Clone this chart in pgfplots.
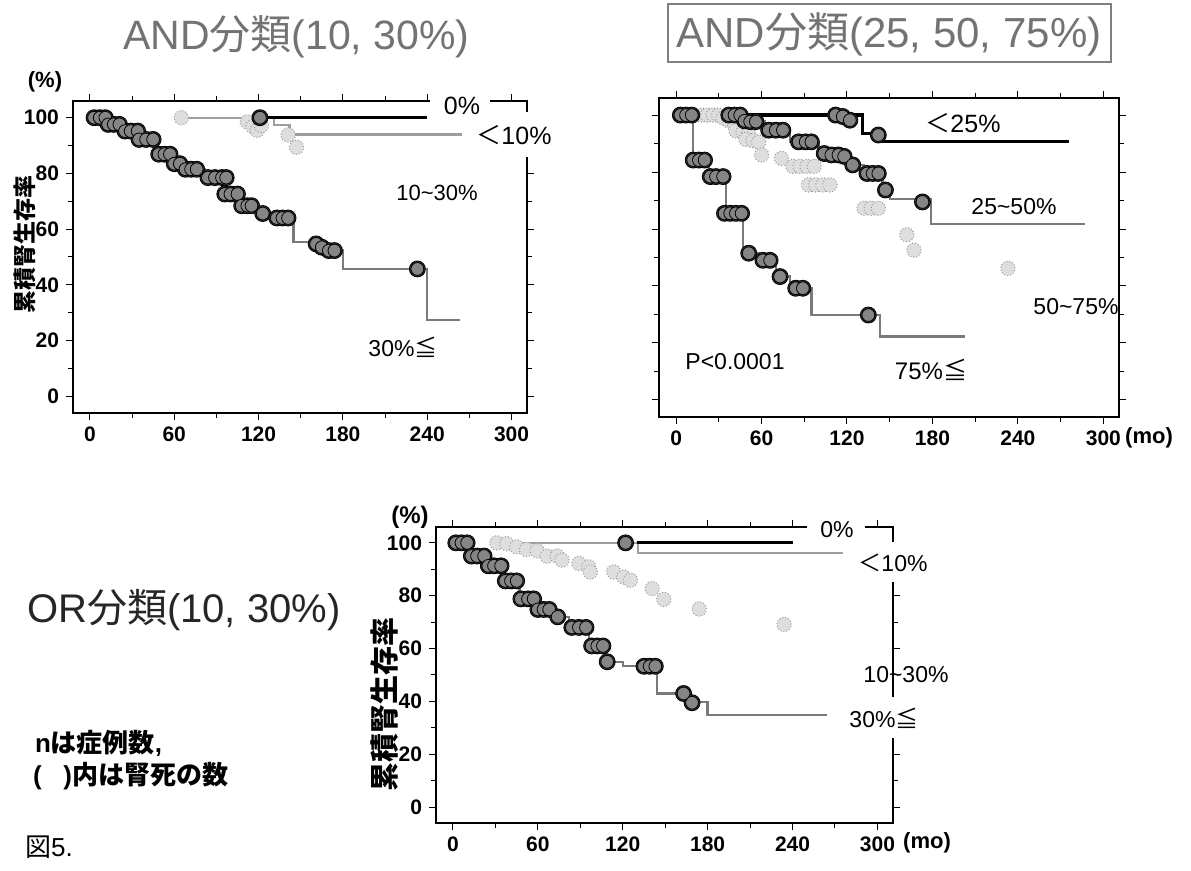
\documentclass[border=0pt]{standalone}
\usepackage{pgfplots}
\usepackage{pgfplotstable}
\pgfplotsset{compat=1.18}
\usepackage{fontspec}
\setmainfont{Liberation Sans}
\newfontfamily\jp{Noto Sans CJK JP}

\definecolor{dkfill}{gray}{0.52}
\definecolor{ltfill}{gray}{0.87}
\definecolor{stepgray}{gray}{0.48}
\definecolor{ltline}{gray}{0.62}
\definecolor{titlegray}{gray}{0.45}

% censored marks, dark groups
\pgfplotstableread{
x y
3 100
7 100
11 100
13 97.6
17 97.6
21 97.6
25 95.2
29 95.2
34 95.2
35 92.2
40 92.2
45 92.2
49 86.9
53 86.9
57 86.9
60 83.5
64 83.5
68 81.5
72 81.5
76 81.5
84 78.5
89 78.5
94 78.5
97 78.5
96 72.6
100 72.6
105 72.6
108 68.4
112 68.4
115 68.4
123 65.6
133 64
137 64
141 64
161 54.7
165 53.5
170 52.3
174 52.3
233 45.7
121 100
}\tlDark

\pgfplotstableread{
x y
37 100
41 100
45 100
48 98
52 97.7
56 97.7
65 94.7
70 94.7
75 94.7
86 90.6
91 90.6
95 90.6
104 86.5
109 86
114 86
118 85.5
124 82.5
134 79.5
138 79.5
142 79.5
147 73.7
173 69.5
3 100
7 100
11 100
12 84.2
16 84.2
20 84.2
24 78.4
28 78.4
33 78.4
34 65.5
38 65.5
42 65.5
46 65.5
51 51.5
61 49
66 49
73 43.3
84 39.2
89 39.2
135 29.8
112 100
117 99.5
122 98.2
142 93
}\trDark

\pgfplotstableread{
x y
2 100
6 100
10 100
13 95
17 95
22 95
25 91.3
29 91.3
34 91.3
37 85.6
41 85.6
45 85.6
48 78.8
53 78.8
57 78.8
60 74.8
64 74.8
68 74.8
74 72
84 68
89 68
94 68
98 61
102 61
106 61
109 55
135 53.3
139 53.3
143 53.3
163 43
169 39.5
122 100
}\btDark

\pgfplotsset{
  kmaxis/.style={
    scale only axis,
    xmin=-12, xmax=311, ymin=-6, ymax=106,
    xtick={0,60,...,300}, minor xtick={30,90,...,270},
    ytick={0,20,...,100}, minor ytick={10,30,...,90},
    tick align=outside,
    major tick length=3.5pt, minor tick length=2.5pt,
    every tick/.style={black, line width=0.5pt},
    axis line style={line width=0.6pt},
    tick label style={font=\fontsize{10.5}{12}\selectfont\bfseries},
    /pgf/number format/assume math mode=true,
    clip=false,
  },
  dkout/.style={only marks, mark=*, mark size=4.0pt, mark options={fill=black!80, draw=none}},
  dkin/.style={only marks, mark=*, mark size=3.2pt, mark options={fill=dkfill, draw=none}},
  lt/.style={only marks, mark=*, mark size=3.6pt, mark options={fill=ltfill, draw=black!40, line width=0.5pt, densely dotted}},
  st/.style={const plot, no marks, color=stepgray, line width=1.2pt},
  lst/.style={const plot, no marks, color=ltline, line width=1.1pt},
  bk/.style={no marks, black, line width=1.6pt},
}

\begin{document}
\begin{tikzpicture}[x=0.5pt,y=0.5pt]
\useasboundingbox (0,0) rectangle (1191,871);

% ---------------- top-left: AND (10, 30%)
\begin{axis}[kmaxis, at={(36.5pt,229pt)}, anchor=south west, width=227pt, height=156pt]
\addplot[lst] coordinates {(65,100) (131,97.5) (142,94) (265,94)};
\addplot[st] coordinates {(2,100) (11,97.6) (23,95.2) (33,92.2) (47,86.9) (58,83.5) (68,81.5) (82,78.5) (94,72.6) (105,68.4) (120,65.6) (130,64) (145,55.3) (168,52.3) (180,45.7) (240,27.4) (263,27.4)};
\addplot[bk] coordinates {(126,100) (240,100)};
\addplot[lt] coordinates {(65,100) (112,98.5) (116,96.8) (119,95.5) (122,97.2) (141,93.8) (147,89.4)};
\addplot[dkout] table {\tlDark};
\addplot[dkin] table {\tlDark};
\end{axis}

% ---------------- top-right: AND (25, 50, 75%)
\begin{axis}[kmaxis, at={(329.5pt,227pt)}, anchor=south west, width=230pt, height=159.5pt, yticklabels={}]
\addplot[st] coordinates {(35,100) (47,97.7) (62,94.7) (80,90.6) (100,86) (122,82.5) (132,79.5) (145,73.7) (150,70.5) (179,61.7) (287,61.7)};
\addplot[st] coordinates {(4,100) (12,84.2) (23,78.4) (35,65.5) (47,51.5) (58,49) (70,43.3) (80,39.2) (95,29.8) (143,22.2) (203,22.2)};
\addplot[bk, const plot] coordinates {(50,100) (131,93.6) (142,90.6) (276,90.6)};
\addplot[lt] coordinates {(18,100) (22,100) (26,100) (30,100) (33,99) (37,98) (41,97) (44,96) (42,94.5) (47,94) (51,93.5) (49,91.5) (54,91) (58,90.5) (60,86) (74,84.8) (82,82) (87,82) (92,82) (97,82) (93,75.5) (98,75.5) (103,75.5) (108,75.5) (132,67.3) (137,67.3) (142,67.3) (162,58) (167,52.6) (233,46.2)};
\addplot[dkout] table {\trDark};
\addplot[dkin] table {\trDark};
\end{axis}

% ---------------- bottom: OR (10, 30%)
\begin{axis}[kmaxis, at={(218pt,24pt)}, anchor=south west, width=228.5pt, height=148pt]
\addplot[lst] coordinates {(29,100) (131,96.2) (276,96.2)};
\addplot[st] coordinates {(2,100) (12,95) (23,91.3) (34,85.6) (47,78.8) (58,74.8) (73,72) (82,68) (96,61) (108,55) (120,53.3) (144,43) (167,39.8) (180,34.8) (264,34.8)};
\addplot[bk] coordinates {(130,100) (240,100)};
\addplot[lt] coordinates {(31,100) (38,99.7) (45,98.5) (52,97.5) (59.5,97) (66.5,95) (73.6,95) (77,93.5) (89,92.2) (96,90.9) (97,89) (113.6,89) (120.7,87.1) (125.4,85.9) (140.8,82.7) (149,78.6) (174,75) (234,69.1)};
\addplot[dkout] table {\btDark};
\addplot[dkin] table {\btDark};
\end{axis}

% frame gaps
\fill[white] (430,767) rectangle (490,785);
\fill[white] (521,714) rectangle (540,759);
\fill[white] (807,341) rectangle (865,359);
\fill[white] (887,289) rectangle (905,329);
\fill[white] (887,133) rectangle (905,174);

% titles
\node[anchor=west, text=titlegray, font=\fontsize{20.5}{24}\selectfont] at (116,834) {AND{\jp 分類}(10, 30\%)};
\draw[black!50, line width=1pt] (668,809) rectangle (1111,867);
\node[text=titlegray, font=\fontsize{21}{24}\selectfont] at (889,837) {AND{\jp 分類}(25, 50, 75\%)};
\node[anchor=west, text=black!85, font=\fontsize{20}{24}\selectfont] at (20,261) {OR{\jp 分類}(10, 30\%)};

% notes
\node[anchor=west, font=\fontsize{13}{15}\selectfont\bfseries] at (28,128) {n{\jp は症例数},};
\node[anchor=west, font=\fontsize{13}{15}\selectfont\bfseries] at (26,95) {(\ \ \ ){\jp 内は腎死の数}};
\node[anchor=west, font=\fontsize{13}{15}\selectfont] at (18,24) {{\jp 図}5.};

% top-left labels
\node[font=\fontsize{11}{12}\selectfont\bfseries] at (45,789) {(\%)};
\node[rotate=90, font=\jp\bfseries\fontsize{11.5}{12}\selectfont] at (25,626) {累積腎生存率};
\node[font=\fontsize{12.5}{14}\selectfont] at (462,765) {0\%};
\node[font=\fontsize{12.5}{14}\selectfont] at (514,736) {{\jp ＜}10\%};
\node[font=\fontsize{11}{13}\selectfont] at (437,678) {10\textasciitilde30\%};
\node[font=\fontsize{11.5}{13}\selectfont] at (403,524) {30\%{\jp ≦}};

% top-right labels
\node[font=\fontsize{12.5}{14}\selectfont] at (963,748) {{\jp ＜}25\%};
\node[font=\fontsize{11.5}{13}\selectfont] at (1014,664) {25\textasciitilde50\%};
\node[font=\fontsize{11.5}{13}\selectfont] at (1076,564) {50\textasciitilde75\%};
\node[font=\fontsize{11.5}{13}\selectfont] at (735,509) {P<0.0001};
\node[font=\fontsize{12}{13}\selectfont] at (931,501) {75\%{\jp ≦}};
\node[font=\fontsize{11}{12}\selectfont\bfseries] at (1149,433) {(mo)};

% bottom labels
\node[font=\fontsize{12}{13}\selectfont\bfseries] at (410,354) {(\%)};
\node[rotate=90, font=\jp\bfseries\fontsize{14.5}{15}\selectfont] at (385,166) {累積腎生存率};
\node[font=\fontsize{11.5}{13}\selectfont] at (837,341) {0\%};
\node[font=\fontsize{11.5}{13}\selectfont] at (893,308) {{\jp ＜}10\%};
\node[font=\fontsize{11.5}{13}\selectfont] at (906,196) {10\textasciitilde30\%};
\node[font=\fontsize{11.5}{13}\selectfont] at (884,153) {30\%{\jp ≦}};
\node[font=\fontsize{11}{12}\selectfont\bfseries] at (927,28) {(mo)};
\end{tikzpicture}
\end{document}
